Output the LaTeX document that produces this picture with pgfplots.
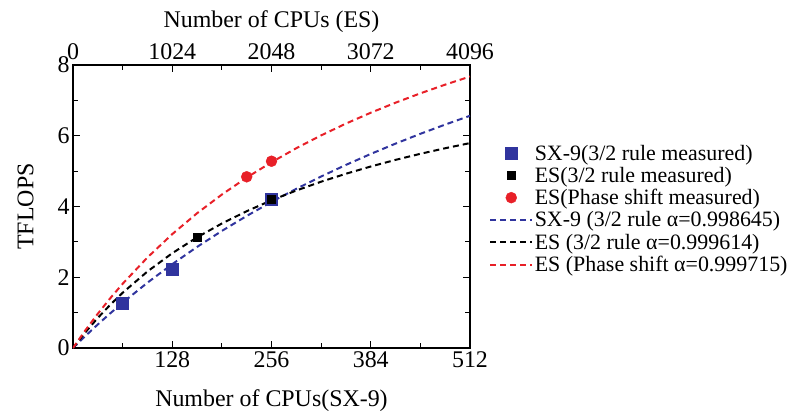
\documentclass[border=0pt]{standalone}
\usepackage{pgfplots}
\pgfplotsset{compat=1.18}
\usepackage{fontspec}
\setmainfont{Liberation Serif}
\definecolor{cblue}{RGB}{48,52,158}
\definecolor{cred}{RGB}{232,32,40}
\begin{document}
\begin{tikzpicture}
\pgfplotsset{
  common/.style={
    at={(0,0)}, anchor=south west, scale only axis,
    width=397bp, height=283bp,
    ymin=0, ymax=8,
    /pgf/number format/assume math mode=true,
    /pgf/number format/1000 sep={},
    tick label style={font=\fontsize{24}{28}\selectfont},
    label style={font=\fontsize{24}{28}\selectfont},
  },
  dline/.style={line width=2bp, dash pattern=on 6bp off 4bp},
}
\begin{axis}[common,
  xmin=0, xmax=512,
  xtick={0,128,256,384,512}, xticklabels={,128,256,384,512},
  minor xtick={64,192,320,448},
  ytick={0,2,4,6,8}, minor ytick={1,3,5,7},
  tick align=inside, major tick length=7bp, minor tick length=5bp,
  axis line style={line width=1.2bp},
  every tick/.style={line width=1bp, black},
  xlabel={Number of CPUs(SX-9)},
  xlabel style={yshift=-15bp},
  ylabel={TFLOPS},
  ylabel style={yshift=17bp},
  legend style={draw=none, fill=none, at={(1.048,0.724)}, anchor=north west,
    font=\fontsize{22}{24}\selectfont, row sep=2.5bp, inner sep=0pt,
    nodes={inner sep=1.5bp}},
  legend cell align=left,
  legend image code/.code={\draw[mark repeat=2,mark phase=2,#1] plot coordinates {(0bp,0bp) (21bp,0bp) (42bp,0bp)};},
]
% model curves
\addplot[forget plot, cblue, dline] coordinates {
(0,0) (16,0.340) (32,0.666) (48,0.979) (64,1.280) (96,1.846) (128,2.370) (160,2.857)
(192,3.310) (224,3.733) (256,4.129) (288,4.500) (320,4.848) (352,5.176) (384,5.486)
(416,5.778) (448,6.055) (480,6.316) (512,6.565)};
\addplot[forget plot, black, dline] coordinates {
(0,0) (16,0.445) (32,0.851) (48,1.221) (64,1.561) (96,2.163) (128,2.680) (160,3.128)
(192,3.520) (224,3.867) (256,4.176) (288,4.452) (320,4.701) (352,4.926) (384,5.131)
(416,5.318) (448,5.490) (480,5.647) (512,5.793)};
\addplot[forget plot, cred, dline] coordinates {
(0,0) (16,0.502) (32,0.969) (48,1.406) (64,1.815) (96,2.559) (128,3.219) (160,3.809)
(192,4.338) (224,4.817) (256,5.251) (288,5.648) (320,6.010) (352,6.344) (384,6.651)
(416,6.935) (448,7.199) (480,7.445) (512,7.674)};
% measured
\addplot[only marks, mark=square*, mark size=6bp, cblue, mark options={fill=cblue}] coordinates {
(64,1.27) (128,2.24) (256,4.20)};
\addlegendentry{SX-9(3/2 rule measured)}
\addplot[only marks, mark=square*, mark size=4bp, black, mark options={fill=black}] coordinates {
(160,3.13) (256,4.20)};
\addlegendentry{ES(3/2 rule measured)}
\addplot[only marks, mark=*, mark size=5.5bp, cred, mark options={fill=cred}] coordinates {
(224,4.84) (256,5.28)};
\addlegendentry{ES(Phase shift measured)}
\addlegendimage{cblue, dline}
\addlegendentry{SX-9 (3/2 rule α=0.998645)}
\addlegendimage{black, dline}
\addlegendentry{ES (3/2 rule α=0.999614)}
\addlegendimage{cred, dline}
\addlegendentry{ES (Phase shift α=0.999715)}
\end{axis}
\begin{axis}[common,
  xmin=0, xmax=4096,
  axis x line*=top, axis y line=none,
  xtick={0,1024,2048,3072,4096},
  major tick length=0pt,
  axis line style={draw=none},
  xticklabel style={yshift=2bp},
  xlabel={Number of CPUs (ES)},
  xlabel style={yshift=4bp},
]
\addplot[draw=none, forget plot] coordinates {(0,0)};
\end{axis}
\pgfresetboundingbox
\path (-73bp,-68bp) rectangle (724bp,348bp);
\end{tikzpicture}
\end{document}
